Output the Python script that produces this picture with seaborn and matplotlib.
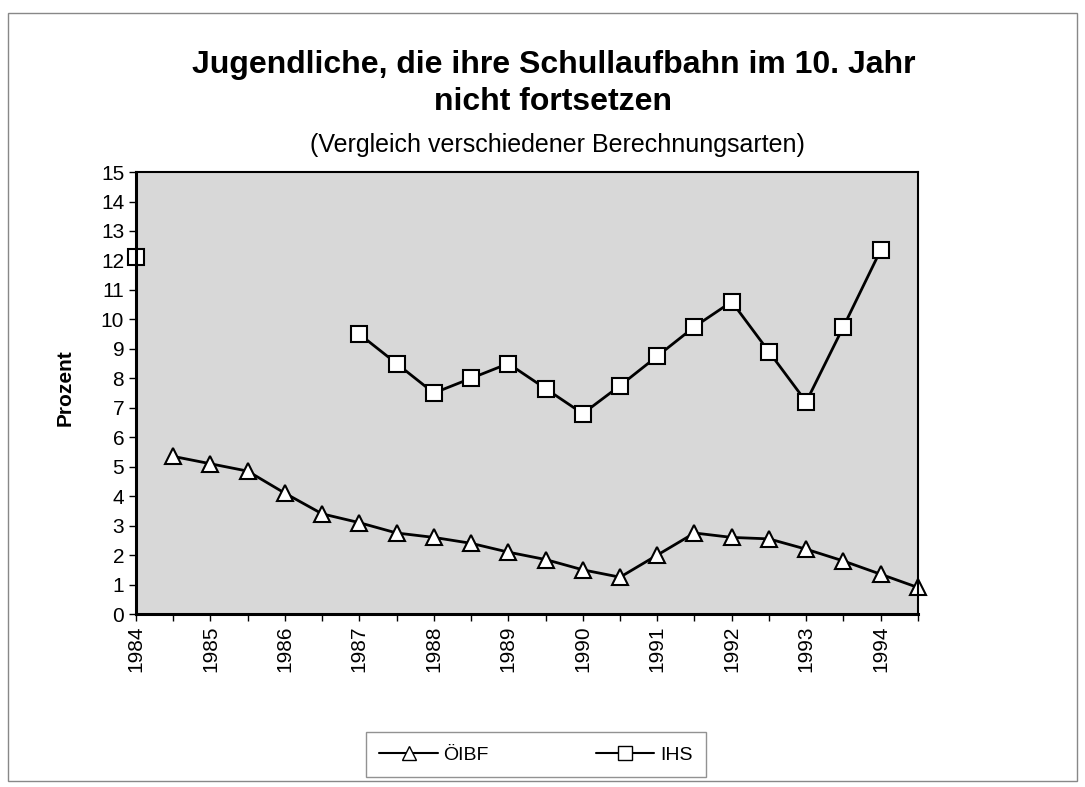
import numpy as np
import pandas as pd
import matplotlib
matplotlib.use("Agg")
import matplotlib.pyplot as plt
import seaborn as sns
from matplotlib.patches import Rectangle

# half-year steps 1984 .. 1994.5
years = [1984.0, 1984.5, 1985.0, 1985.5, 1986.0, 1986.5, 1987.0, 1987.5,
         1988.0, 1988.5, 1989.0, 1989.5, 1990.0, 1990.5, 1991.0, 1991.5,
         1992.0, 1992.5, 1993.0, 1993.5, 1994.0, 1994.5]
oibf = [np.nan, 5.35, 5.1, 4.85, 4.1, 3.4, 3.1, 2.75, 2.6, 2.4, 2.1,
        1.85, 1.5, 1.25, 2.0, 2.75, 2.6, 2.55, 2.2, 1.8, 1.35, 0.9]
ihs = [12.1, np.nan, np.nan, np.nan, np.nan, np.nan, 9.5, 8.5, 7.5, 8.0, 8.5,
       7.65, 6.8, 7.75, 8.75, 9.75, 10.6, 8.9, 7.2, 9.75, 12.35, np.nan]
year_labels = [str(y) for y in range(1984, 1995)]
y_ticks = list(range(0, 16))

def to_long(values, name):
    # split a series into connected segments so gaps stay open
    rows = []
    seg = 0
    prev_nan = True
    for x, v in zip(years, values):
        if np.isnan(v):
            prev_nan = True
            continue
        if prev_nan:
            seg += 1
        prev_nan = False
        rows.append({"Jahr": x, "Prozent": v, "Reihe": name, "seg": seg})
    return pd.DataFrame(rows)

df = pd.concat([to_long(oibf, "ÖIBF"), to_long(ihs, "IHS")], ignore_index=True)

sns.set_theme(style="white")
plt.rcParams["font.family"] = ["Liberation Sans", "DejaVu Sans"]
for key in ["text.color", "axes.labelcolor", "xtick.color", "ytick.color"]:
    plt.rcParams[key] = "black"

fig = plt.figure(figsize=(10.85, 7.87), dpi=100)
ax = fig.add_axes([0.1253, 0.2198, 0.7207, 0.5616])
ax.set_facecolor("#d8d8d8")

sns.lineplot(data=df, x="Jahr", y="Prozent", hue="Reihe", style="Reihe",
             units="seg", estimator=None, ax=ax,
             palette={"ÖIBF": "black", "IHS": "black"},
             markers={"ÖIBF": "^", "IHS": "s"},
             dashes={"ÖIBF": "", "IHS": ""},
             linewidth=2, markersize=11, markerfacecolor="white",
             markeredgecolor="black", markeredgewidth=1.5, clip_on=False,
             legend=False)

ax.set_xlim(1984, 1994.5)
ax.set_ylim(0, 15)
ax.set_yticks(y_ticks)
ax.set_yticklabels([str(t) for t in y_ticks], fontsize=15)
ax.set_xticks(range(1984, 1995))
ax.set_xticklabels(year_labels, rotation=90, fontsize=15)
ax.set_xticks(years, minor=True)
ax.tick_params(axis="both", which="both", direction="out", color="black",
               length=5, width=1, bottom=True, left=True)
ax.set_xlabel("")
ax.set_ylabel("")
for s in ax.spines.values():
    s.set_color("black")
    s.set_linewidth(1.5)
ax.spines["left"].set_linewidth(2.2)
ax.spines["bottom"].set_linewidth(2.2)

fig.text(0.51, 0.917, "Jugendliche, die ihre Schullaufbahn im 10. Jahr",
         ha="center", va="center", fontsize=23, fontweight="bold")
fig.text(0.51, 0.870, "nicht fortsetzen",
         ha="center", va="center", fontsize=23, fontweight="bold")
fig.text(0.514, 0.816, "(Vergleich verschiedener Berechnungsarten)",
         ha="center", va="center", fontsize=18)
fig.text(0.060, 0.507, "Prozent", rotation=90, ha="center", va="center",
         fontsize=15, fontweight="bold")

h1, = ax.plot([], [], color="black", marker="^", markersize=10,
              markerfacecolor="white", markeredgecolor="black", lw=1.5)
h2, = ax.plot([], [], color="black", marker="s", markersize=10,
              markerfacecolor="white", markeredgecolor="black", lw=1.5)
leg = fig.legend([h1, h2], ["ÖIBF", "IHS"], loc="center",
                 bbox_to_anchor=(0.494, 0.041), ncol=2, fontsize=14,
                 frameon=True, fancybox=False, handlelength=3,
                 columnspacing=5.5, borderpad=0.7, handletextpad=0.3)
leg.get_frame().set_edgecolor("#777777")
leg.get_frame().set_linewidth(1)

fig.patches.append(Rectangle((8 / 1085, 1 - 781 / 787), 1069 / 1085, 768 / 787,
                             transform=fig.transFigure, fill=False,
                             edgecolor="#888888", linewidth=1))

fig.savefig("out.png", dpi=100)
